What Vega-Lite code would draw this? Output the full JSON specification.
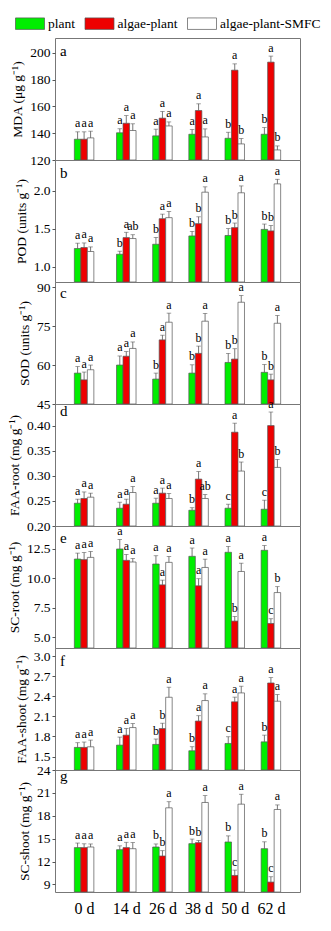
{
"$schema": "https://vega.github.io/schema/vega-lite/v6.json",
"padding": {"left": 6, "top": 13, "right": 5, "bottom": 5},
"bounds": "flush",
"spacing": 0,
"datasets": {"d": [
{"p":"a","d":0,"t":"plant","v":135.5,"u":141,"l":"a"},{"p":"a","d":0,"t":"algae-plant","v":135.5,"u":141,"l":"a"},{"p":"a","d":0,"t":"algae-plant-SMFC","v":136.5,"u":141.5,"l":"a"},
{"p":"a","d":14,"t":"plant","v":140.3,"u":143.3,"l":"a"},{"p":"a","d":14,"t":"algae-plant","v":147.4,"u":153.1,"l":"a"},{"p":"a","d":14,"t":"algae-plant-SMFC","v":142,"u":147,"l":"a"},
{"p":"a","d":26,"t":"plant","v":138,"u":143,"l":"a"},{"p":"a","d":26,"t":"algae-plant","v":151.2,"u":156.2,"l":"a"},{"p":"a","d":26,"t":"algae-plant-SMFC","v":145.4,"u":148.4,"l":"a"},
{"p":"a","d":38,"t":"plant","v":139.2,"u":142.7,"l":"a"},{"p":"a","d":38,"t":"algae-plant","v":156.9,"u":161.9,"l":"a"},{"p":"a","d":38,"t":"algae-plant-SMFC","v":137.2,"u":143.2,"l":"a"},
{"p":"a","d":50,"t":"plant","v":136.2,"u":140.7,"l":"b"},{"p":"a","d":50,"t":"algae-plant","v":187,"u":191.7,"l":"a"},{"p":"a","d":50,"t":"algae-plant-SMFC","v":132,"u":136,"l":"b"},
{"p":"a","d":62,"t":"plant","v":139.2,"u":144.2,"l":"b"},{"p":"a","d":62,"t":"algae-plant","v":193,"u":197.5,"l":"a"},{"p":"a","d":62,"t":"algae-plant-SMFC","v":127.5,"u":130.5,"l":"b"},
{"p":"b","d":0,"t":"plant","v":1.239,"u":1.309,"l":"a"},{"p":"b","d":0,"t":"algae-plant","v":1.252,"u":1.312,"l":"a"},{"p":"b","d":0,"t":"algae-plant-SMFC","v":1.2,"u":1.26,"l":"a"},
{"p":"b","d":14,"t":"plant","v":1.164,"u":1.204,"l":"b"},{"p":"b","d":14,"t":"algae-plant","v":1.382,"u":1.452,"l":"a"},{"p":"b","d":14,"t":"algae-plant-SMFC","v":1.37,"u":1.42,"l":"ab"},
{"p":"b","d":26,"t":"plant","v":1.295,"u":1.385,"l":"b"},{"p":"b","d":26,"t":"algae-plant","v":1.63,"u":1.69,"l":"a"},{"p":"b","d":26,"t":"algae-plant-SMFC","v":1.644,"u":1.724,"l":"a"},
{"p":"b","d":38,"t":"plant","v":1.404,"u":1.464,"l":"b"},{"p":"b","d":38,"t":"algae-plant","v":1.565,"u":1.655,"l":"b"},{"p":"b","d":38,"t":"algae-plant-SMFC","v":1.978,"u":2.048,"l":"a"},
{"p":"b","d":50,"t":"plant","v":1.41,"u":1.5,"l":"b"},{"p":"b","d":50,"t":"algae-plant","v":1.513,"u":1.573,"l":"b"},{"p":"b","d":50,"t":"algae-plant-SMFC","v":1.97,"u":2.06,"l":"a"},
{"p":"b","d":62,"t":"plant","v":1.49,"u":1.56,"l":"b"},{"p":"b","d":62,"t":"algae-plant","v":1.47,"u":1.54,"l":"b"},{"p":"b","d":62,"t":"algae-plant-SMFC","v":2.087,"u":2.147,"l":"a"},
{"p":"c","d":0,"t":"plant","v":56.9,"u":59.4,"l":"a"},{"p":"c","d":0,"t":"algae-plant","v":54.3,"u":57.3,"l":"a"},{"p":"c","d":0,"t":"algae-plant-SMFC","v":58.2,"u":60,"l":"a"},
{"p":"c","d":14,"t":"plant","v":60,"u":63.5,"l":"a"},{"p":"c","d":14,"t":"algae-plant","v":63.4,"u":65.2,"l":"a"},{"p":"c","d":14,"t":"algae-plant-SMFC","v":66.4,"u":68.9,"l":"a"},
{"p":"c","d":26,"t":"plant","v":54.6,"u":56.9,"l":"b"},{"p":"c","d":26,"t":"algae-plant","v":69.7,"u":71.5,"l":"a"},{"p":"c","d":26,"t":"algae-plant-SMFC","v":76.5,"u":80,"l":"a"},
{"p":"c","d":38,"t":"plant","v":56.9,"u":60.1,"l":"b"},{"p":"c","d":38,"t":"algae-plant","v":64.5,"u":67.3,"l":"b"},{"p":"c","d":38,"t":"algae-plant-SMFC","v":76.9,"u":79.9,"l":"a"},
{"p":"c","d":50,"t":"plant","v":61,"u":64.5,"l":"b"},{"p":"c","d":50,"t":"algae-plant","v":62.3,"u":66.3,"l":"b"},{"p":"c","d":50,"t":"algae-plant-SMFC","v":84.2,"u":86.8,"l":"a"},
{"p":"c","d":62,"t":"plant","v":57.2,"u":60.2,"l":"b"},{"p":"c","d":62,"t":"algae-plant","v":54.3,"u":56.5,"l":"b"},{"p":"c","d":62,"t":"algae-plant-SMFC","v":76.1,"u":79.1,"l":"a"},
{"p":"d","d":0,"t":"plant","v":0.2454,"u":0.2534,"l":"a"},{"p":"d","d":0,"t":"algae-plant","v":0.2548,"u":0.2678,"l":"a"},{"p":"d","d":0,"t":"algae-plant-SMFC","v":0.2574,"u":0.2654,"l":"a"},
{"p":"d","d":14,"t":"plant","v":0.2354,"u":0.2474,"l":"a"},{"p":"d","d":14,"t":"algae-plant","v":0.2434,"u":0.2534,"l":"a"},{"p":"d","d":14,"t":"algae-plant-SMFC","v":0.2667,"u":0.2787,"l":"a"},
{"p":"d","d":26,"t":"plant","v":0.2454,"u":0.2554,"l":"a"},{"p":"d","d":26,"t":"algae-plant","v":0.2654,"u":0.2754,"l":"a"},{"p":"d","d":26,"t":"algae-plant-SMFC","v":0.2548,"u":0.2648,"l":"a"},
{"p":"d","d":38,"t":"plant","v":0.2314,"u":0.2364,"l":"b"},{"p":"d","d":38,"t":"algae-plant","v":0.2934,"u":0.3084,"l":"a"},{"p":"d","d":38,"t":"algae-plant-SMFC","v":0.2548,"u":0.2628,"l":"ab"},
{"p":"d","d":50,"t":"plant","v":0.2354,"u":0.2434,"l":"c"},{"p":"d","d":50,"t":"algae-plant","v":0.3868,"u":0.4048,"l":"a"},{"p":"d","d":50,"t":"algae-plant-SMFC","v":0.3094,"u":0.3274,"l":"b"},
{"p":"d","d":62,"t":"plant","v":0.2334,"u":0.2514,"l":"c"},{"p":"d","d":62,"t":"algae-plant","v":0.4,"u":0.427,"l":"a"},{"p":"d","d":62,"t":"algae-plant-SMFC","v":0.3167,"u":0.3327,"l":"b"},
{"p":"e","d":0,"t":"plant","v":11.61,"u":12.11,"l":"a"},{"p":"e","d":0,"t":"algae-plant","v":11.56,"u":12.16,"l":"a"},{"p":"e","d":0,"t":"algae-plant-SMFC","v":11.75,"u":12.25,"l":"a"},
{"p":"e","d":14,"t":"plant","v":12.46,"u":13.26,"l":"a"},{"p":"e","d":14,"t":"algae-plant","v":11.5,"u":12.0,"l":"a"},{"p":"e","d":14,"t":"algae-plant-SMFC","v":11.36,"u":11.66,"l":"a"},
{"p":"e","d":26,"t":"plant","v":11.19,"u":11.89,"l":"a"},{"p":"e","d":26,"t":"algae-plant","v":9.43,"u":9.83,"l":"a"},{"p":"e","d":26,"t":"algae-plant-SMFC","v":11.33,"u":11.83,"l":"a"},
{"p":"e","d":38,"t":"plant","v":11.84,"u":12.54,"l":"a"},{"p":"e","d":38,"t":"algae-plant","v":9.35,"u":9.95,"l":"a"},{"p":"e","d":38,"t":"algae-plant-SMFC","v":10.9,"u":11.6,"l":"a"},
{"p":"e","d":50,"t":"plant","v":12.18,"u":12.68,"l":"a"},{"p":"e","d":50,"t":"algae-plant","v":6.37,"u":6.77,"l":"b"},{"p":"e","d":50,"t":"algae-plant-SMFC","v":10.56,"u":11.26,"l":"a"},
{"p":"e","d":62,"t":"plant","v":12.35,"u":12.75,"l":"a"},{"p":"e","d":62,"t":"algae-plant","v":6.17,"u":6.57,"l":"c"},{"p":"e","d":62,"t":"algae-plant-SMFC","v":8.78,"u":9.28,"l":"b"},
{"p":"f","d":0,"t":"plant","v":1.637,"u":1.707,"l":"a"},{"p":"f","d":0,"t":"algae-plant","v":1.637,"u":1.717,"l":"a"},{"p":"f","d":0,"t":"algae-plant-SMFC","v":1.646,"u":1.746,"l":"a"},
{"p":"f","d":14,"t":"plant","v":1.671,"u":1.791,"l":"a"},{"p":"f","d":14,"t":"algae-plant","v":1.82,"u":1.92,"l":"a"},{"p":"f","d":14,"t":"algae-plant-SMFC","v":1.933,"u":1.993,"l":"a"},
{"p":"f","d":26,"t":"plant","v":1.682,"u":1.762,"l":"b"},{"p":"f","d":26,"t":"algae-plant","v":1.918,"u":1.998,"l":"b"},{"p":"f","d":26,"t":"algae-plant-SMFC","v":2.385,"u":2.535,"l":"a"},
{"p":"f","d":38,"t":"plant","v":1.587,"u":1.647,"l":"b"},{"p":"f","d":38,"t":"algae-plant","v":2.03,"u":2.11,"l":"a"},{"p":"f","d":38,"t":"algae-plant-SMFC","v":2.336,"u":2.436,"l":"a"},
{"p":"f","d":50,"t":"plant","v":1.696,"u":1.796,"l":"c"},{"p":"f","d":50,"t":"algae-plant","v":2.317,"u":2.387,"l":"a"},{"p":"f","d":50,"t":"algae-plant-SMFC","v":2.45,"u":2.55,"l":"a"},
{"p":"f","d":62,"t":"plant","v":1.72,"u":1.82,"l":"b"},{"p":"f","d":62,"t":"algae-plant","v":2.598,"u":2.678,"l":"a"},{"p":"f","d":62,"t":"algae-plant-SMFC","v":2.326,"u":2.426,"l":"a"},
{"p":"g","d":0,"t":"plant","v":13.82,"u":14.42,"l":"a"},{"p":"g","d":0,"t":"algae-plant","v":13.82,"u":14.32,"l":"a"},{"p":"g","d":0,"t":"algae-plant-SMFC","v":13.9,"u":14.3,"l":"a"},
{"p":"g","d":14,"t":"plant","v":13.55,"u":14.05,"l":"a"},{"p":"g","d":14,"t":"algae-plant","v":13.82,"u":14.52,"l":"a"},{"p":"g","d":14,"t":"algae-plant-SMFC","v":13.68,"u":14.48,"l":"a"},
{"p":"g","d":26,"t":"plant","v":13.9,"u":14.3,"l":"b"},{"p":"g","d":26,"t":"algae-plant","v":12.72,"u":13.42,"l":"b"},{"p":"g","d":26,"t":"algae-plant-SMFC","v":19.04,"u":19.84,"l":"a"},
{"p":"g","d":38,"t":"plant","v":14.34,"u":14.94,"l":"b"},{"p":"g","d":38,"t":"algae-plant","v":14.47,"u":14.77,"l":"b"},{"p":"g","d":38,"t":"algae-plant-SMFC","v":19.74,"u":20.64,"l":"a"},
{"p":"g","d":50,"t":"plant","v":14.56,"u":15.36,"l":"b"},{"p":"g","d":50,"t":"algae-plant","v":10.17,"u":10.87,"l":"c"},{"p":"g","d":50,"t":"algae-plant-SMFC","v":19.52,"u":20.82,"l":"a"},
{"p":"g","d":62,"t":"plant","v":13.68,"u":14.58,"l":"b"},{"p":"g","d":62,"t":"algae-plant","v":9.3,"u":10.0,"l":"c"},{"p":"g","d":62,"t":"algae-plant-SMFC","v":18.82,"u":19.42,"l":"a"}
]},
"data": {"name": "d"},
"vconcat": [
{"width":245,"height":122,"title":{"text":"a"},"transform":[{"filter":"datum.p==='a'"}],
 "encoding":{"x":{"field":"d","type":"quantitative","scale":{"domain":[-8,70]},"axis":null},
  "y":{"field":"v","type":"quantitative","stack":null,"scale":{"domain":[120,211],"zero":false,"nice":false},"title":"MDA (μg g⁻¹)","axis":{"values":[120,140,160,180,200],"format":"d"}}},
 "layer":[
  {"mark":{"type":"bar","width":6.5,"clip":true,"stroke":"#555","strokeWidth":0.7,"xOffset":{"expr":"datum.t === 'plant' ? -6.5 : datum.t === 'algae-plant' ? 0 : 6.5"}},"encoding":{"fill":{"field":"t","type":"nominal","scale":{"domain":["plant","algae-plant","algae-plant-SMFC"],"range":["#00ee00","#ee0000","#ffffff"]},"legend":{"title":null,"orient":"none","legendX":-35.5,"legendY":-25,"labelFont":"Liberation Serif","labelFontSize":13.5}}}},
  {"mark":{"type":"rule","color":"#555","strokeWidth":0.8,"xOffset":{"expr":"datum.t === 'plant' ? -6.5 : datum.t === 'algae-plant' ? 0 : 6.5"}},"encoding":{"y2":{"field":"u"}}},
  {"mark":{"type":"tick","orient":"horizontal","size":4.5,"thickness":0.8,"color":"#555","xOffset":{"expr":"datum.t === 'plant' ? -6.5 : datum.t === 'algae-plant' ? 0 : 6.5"}},"encoding":{"y":{"field":"u","type":"quantitative","scale":{"domain":[120,211],"zero":false,"nice":false},"title":"MDA (μg g⁻¹)"}}},
  {"mark":{"type":"text","baseline":"bottom","dy":-1.5,"fontSize":12,"font":"Liberation Serif","color":"#000","xOffset":{"expr":"datum.t === 'plant' ? -6.5 : datum.t === 'algae-plant' ? 0 : 6.5"}},"encoding":{"y":{"field":"u","type":"quantitative","scale":{"domain":[120,211],"zero":false,"nice":false},"title":"MDA (μg g⁻¹)"},"text":{"field":"l"}}}
 ]},
{"width":245,"height":122,"title":{"text":"b"},"transform":[{"filter":"datum.p==='b'"}],
 "encoding":{"x":{"field":"d","type":"quantitative","scale":{"domain":[-8,70]},"axis":null},
  "y":{"field":"v","type":"quantitative","stack":null,"scale":{"domain":[0.8,2.4],"zero":false,"nice":false},"title":"POD (units g⁻¹)","axis":{"values":[1.0,1.5,2.0],"format":".1f"}}},
 "layer":[
  {"mark":{"type":"bar","width":6.5,"clip":true,"stroke":"#555","strokeWidth":0.7,"xOffset":{"expr":"datum.t === 'plant' ? -6.5 : datum.t === 'algae-plant' ? 0 : 6.5"}},"encoding":{"fill":{"field":"t","type":"nominal","scale":{"domain":["plant","algae-plant","algae-plant-SMFC"],"range":["#00ee00","#ee0000","#ffffff"]},"legend":{"title":null,"orient":"none","legendX":-35.5,"legendY":-25,"labelFont":"Liberation Serif","labelFontSize":13.5}}}},
  {"mark":{"type":"rule","color":"#555","strokeWidth":0.8,"xOffset":{"expr":"datum.t === 'plant' ? -6.5 : datum.t === 'algae-plant' ? 0 : 6.5"}},"encoding":{"y2":{"field":"u"}}},
  {"mark":{"type":"tick","orient":"horizontal","size":4.5,"thickness":0.8,"color":"#555","xOffset":{"expr":"datum.t === 'plant' ? -6.5 : datum.t === 'algae-plant' ? 0 : 6.5"}},"encoding":{"y":{"field":"u","type":"quantitative","scale":{"domain":[0.8,2.4],"zero":false,"nice":false},"title":"POD (units g⁻¹)"}}},
  {"mark":{"type":"text","baseline":"bottom","dy":-1.5,"fontSize":12,"font":"Liberation Serif","color":"#000","xOffset":{"expr":"datum.t === 'plant' ? -6.5 : datum.t === 'algae-plant' ? 0 : 6.5"}},"encoding":{"y":{"field":"u","type":"quantitative","scale":{"domain":[0.8,2.4],"zero":false,"nice":false},"title":"POD (units g⁻¹)"},"text":{"field":"l"}}}
 ]},
{"width":245,"height":122,"title":{"text":"c"},"transform":[{"filter":"datum.p==='c'"}],
 "encoding":{"x":{"field":"d","type":"quantitative","scale":{"domain":[-8,70]},"axis":null},
  "y":{"field":"v","type":"quantitative","stack":null,"scale":{"domain":[45,92],"zero":false,"nice":false},"title":"SOD (units g⁻¹)","axis":{"values":[45,60,75,90],"format":"d"}}},
 "layer":[
  {"mark":{"type":"bar","width":6.5,"clip":true,"stroke":"#555","strokeWidth":0.7,"xOffset":{"expr":"datum.t === 'plant' ? -6.5 : datum.t === 'algae-plant' ? 0 : 6.5"}},"encoding":{"fill":{"field":"t","type":"nominal","scale":{"domain":["plant","algae-plant","algae-plant-SMFC"],"range":["#00ee00","#ee0000","#ffffff"]},"legend":{"title":null,"orient":"none","legendX":-35.5,"legendY":-25,"labelFont":"Liberation Serif","labelFontSize":13.5}}}},
  {"mark":{"type":"rule","color":"#555","strokeWidth":0.8,"xOffset":{"expr":"datum.t === 'plant' ? -6.5 : datum.t === 'algae-plant' ? 0 : 6.5"}},"encoding":{"y2":{"field":"u"}}},
  {"mark":{"type":"tick","orient":"horizontal","size":4.5,"thickness":0.8,"color":"#555","xOffset":{"expr":"datum.t === 'plant' ? -6.5 : datum.t === 'algae-plant' ? 0 : 6.5"}},"encoding":{"y":{"field":"u","type":"quantitative","scale":{"domain":[45,92],"zero":false,"nice":false},"title":"SOD (units g⁻¹)"}}},
  {"mark":{"type":"text","baseline":"bottom","dy":-1.5,"fontSize":12,"font":"Liberation Serif","color":"#000","xOffset":{"expr":"datum.t === 'plant' ? -6.5 : datum.t === 'algae-plant' ? 0 : 6.5"}},"encoding":{"y":{"field":"u","type":"quantitative","scale":{"domain":[45,92],"zero":false,"nice":false},"title":"SOD (units g⁻¹)"},"text":{"field":"l"}}}
 ]},
{"width":245,"height":122,"title":{"text":"d"},"transform":[{"filter":"datum.p==='d'"}],
 "encoding":{"x":{"field":"d","type":"quantitative","scale":{"domain":[-8,70]},"axis":null},
  "y":{"field":"v","type":"quantitative","stack":null,"scale":{"domain":[0.2,0.443],"zero":false,"nice":false},"title":"FAA-root (mg g⁻¹)","axis":{"values":[0.2,0.25,0.3,0.35,0.4],"format":".2f"}}},
 "layer":[
  {"mark":{"type":"bar","width":6.5,"clip":true,"stroke":"#555","strokeWidth":0.7,"xOffset":{"expr":"datum.t === 'plant' ? -6.5 : datum.t === 'algae-plant' ? 0 : 6.5"}},"encoding":{"fill":{"field":"t","type":"nominal","scale":{"domain":["plant","algae-plant","algae-plant-SMFC"],"range":["#00ee00","#ee0000","#ffffff"]},"legend":{"title":null,"orient":"none","legendX":-35.5,"legendY":-25,"labelFont":"Liberation Serif","labelFontSize":13.5}}}},
  {"mark":{"type":"rule","color":"#555","strokeWidth":0.8,"xOffset":{"expr":"datum.t === 'plant' ? -6.5 : datum.t === 'algae-plant' ? 0 : 6.5"}},"encoding":{"y2":{"field":"u"}}},
  {"mark":{"type":"tick","orient":"horizontal","size":4.5,"thickness":0.8,"color":"#555","xOffset":{"expr":"datum.t === 'plant' ? -6.5 : datum.t === 'algae-plant' ? 0 : 6.5"}},"encoding":{"y":{"field":"u","type":"quantitative","scale":{"domain":[0.2,0.443],"zero":false,"nice":false},"title":"FAA-root (mg g⁻¹)"}}},
  {"mark":{"type":"text","baseline":"bottom","dy":-1.5,"fontSize":12,"font":"Liberation Serif","color":"#000","xOffset":{"expr":"datum.t === 'plant' ? -6.5 : datum.t === 'algae-plant' ? 0 : 6.5"}},"encoding":{"y":{"field":"u","type":"quantitative","scale":{"domain":[0.2,0.443],"zero":false,"nice":false},"title":"FAA-root (mg g⁻¹)"},"text":{"field":"l"}}}
 ]},
{"width":245,"height":122,"title":{"text":"e"},"transform":[{"filter":"datum.p==='e'"}],
 "encoding":{"x":{"field":"d","type":"quantitative","scale":{"domain":[-8,70]},"axis":null},
  "y":{"field":"v","type":"quantitative","stack":null,"scale":{"domain":[4.1,14.4],"zero":false,"nice":false},"title":"SC-root (mg g⁻¹)","axis":{"values":[5,7.5,10,12.5],"format":".1f"}}},
 "layer":[
  {"mark":{"type":"bar","width":6.5,"clip":true,"stroke":"#555","strokeWidth":0.7,"xOffset":{"expr":"datum.t === 'plant' ? -6.5 : datum.t === 'algae-plant' ? 0 : 6.5"}},"encoding":{"fill":{"field":"t","type":"nominal","scale":{"domain":["plant","algae-plant","algae-plant-SMFC"],"range":["#00ee00","#ee0000","#ffffff"]},"legend":{"title":null,"orient":"none","legendX":-35.5,"legendY":-25,"labelFont":"Liberation Serif","labelFontSize":13.5}}}},
  {"mark":{"type":"rule","color":"#555","strokeWidth":0.8,"xOffset":{"expr":"datum.t === 'plant' ? -6.5 : datum.t === 'algae-plant' ? 0 : 6.5"}},"encoding":{"y2":{"field":"u"}}},
  {"mark":{"type":"tick","orient":"horizontal","size":4.5,"thickness":0.8,"color":"#555","xOffset":{"expr":"datum.t === 'plant' ? -6.5 : datum.t === 'algae-plant' ? 0 : 6.5"}},"encoding":{"y":{"field":"u","type":"quantitative","scale":{"domain":[4.1,14.4],"zero":false,"nice":false},"title":"SC-root (mg g⁻¹)"}}},
  {"mark":{"type":"text","baseline":"bottom","dy":-1.5,"fontSize":12,"font":"Liberation Serif","color":"#000","xOffset":{"expr":"datum.t === 'plant' ? -6.5 : datum.t === 'algae-plant' ? 0 : 6.5"}},"encoding":{"y":{"field":"u","type":"quantitative","scale":{"domain":[4.1,14.4],"zero":false,"nice":false},"title":"SC-root (mg g⁻¹)"},"text":{"field":"l"}}}
 ]},
{"width":245,"height":122,"title":{"text":"f"},"transform":[{"filter":"datum.p==='f'"}],
 "encoding":{"x":{"field":"d","type":"quantitative","scale":{"domain":[-8,70]},"axis":null},
  "y":{"field":"v","type":"quantitative","stack":null,"scale":{"domain":[1.3,3.12],"zero":false,"nice":false},"title":"FAA-shoot (mg g⁻¹)","axis":{"values":[1.5,1.8,2.1,2.4,2.7,3.0],"format":".1f"}}},
 "layer":[
  {"mark":{"type":"bar","width":6.5,"clip":true,"stroke":"#555","strokeWidth":0.7,"xOffset":{"expr":"datum.t === 'plant' ? -6.5 : datum.t === 'algae-plant' ? 0 : 6.5"}},"encoding":{"fill":{"field":"t","type":"nominal","scale":{"domain":["plant","algae-plant","algae-plant-SMFC"],"range":["#00ee00","#ee0000","#ffffff"]},"legend":{"title":null,"orient":"none","legendX":-35.5,"legendY":-25,"labelFont":"Liberation Serif","labelFontSize":13.5}}}},
  {"mark":{"type":"rule","color":"#555","strokeWidth":0.8,"xOffset":{"expr":"datum.t === 'plant' ? -6.5 : datum.t === 'algae-plant' ? 0 : 6.5"}},"encoding":{"y2":{"field":"u"}}},
  {"mark":{"type":"tick","orient":"horizontal","size":4.5,"thickness":0.8,"color":"#555","xOffset":{"expr":"datum.t === 'plant' ? -6.5 : datum.t === 'algae-plant' ? 0 : 6.5"}},"encoding":{"y":{"field":"u","type":"quantitative","scale":{"domain":[1.3,3.12],"zero":false,"nice":false},"title":"FAA-shoot (mg g⁻¹)"}}},
  {"mark":{"type":"text","baseline":"bottom","dy":-1.5,"fontSize":12,"font":"Liberation Serif","color":"#000","xOffset":{"expr":"datum.t === 'plant' ? -6.5 : datum.t === 'algae-plant' ? 0 : 6.5"}},"encoding":{"y":{"field":"u","type":"quantitative","scale":{"domain":[1.3,3.12],"zero":false,"nice":false},"title":"FAA-shoot (mg g⁻¹)"},"text":{"field":"l"}}}
 ]},
{"width":245,"height":122,"title":{"text":"g"},"transform":[{"filter":"datum.p==='g'"}],
 "encoding":{"x":{"field":"d","type":"quantitative","scale":{"domain":[-8,70]},"axis":{"values":[0,14,26,38,50,62],"labelExpr":"datum.value + ' d'","ticks":false,"labelFontSize":16,"labelPadding":8,"title":null}},
  "y":{"field":"v","type":"quantitative","stack":null,"scale":{"domain":[8,24],"zero":false,"nice":false},"title":"SC-shoot (mg g⁻¹)","axis":{"values":[9,12,15,18,21,24],"format":"d"}}},
 "layer":[
  {"mark":{"type":"bar","width":6.5,"clip":true,"stroke":"#555","strokeWidth":0.7,"xOffset":{"expr":"datum.t === 'plant' ? -6.5 : datum.t === 'algae-plant' ? 0 : 6.5"}},"encoding":{"fill":{"field":"t","type":"nominal","scale":{"domain":["plant","algae-plant","algae-plant-SMFC"],"range":["#00ee00","#ee0000","#ffffff"]},"legend":{"title":null,"orient":"none","legendX":-35.5,"legendY":-25,"labelFont":"Liberation Serif","labelFontSize":13.5}}}},
  {"mark":{"type":"rule","color":"#555","strokeWidth":0.8,"xOffset":{"expr":"datum.t === 'plant' ? -6.5 : datum.t === 'algae-plant' ? 0 : 6.5"}},"encoding":{"y2":{"field":"u"}}},
  {"mark":{"type":"tick","orient":"horizontal","size":4.5,"thickness":0.8,"color":"#555","xOffset":{"expr":"datum.t === 'plant' ? -6.5 : datum.t === 'algae-plant' ? 0 : 6.5"}},"encoding":{"y":{"field":"u","type":"quantitative","scale":{"domain":[8,24],"zero":false,"nice":false},"title":"SC-shoot (mg g⁻¹)"}}},
  {"mark":{"type":"text","baseline":"bottom","dy":-1.5,"fontSize":12,"font":"Liberation Serif","color":"#000","xOffset":{"expr":"datum.t === 'plant' ? -6.5 : datum.t === 'algae-plant' ? 0 : 6.5"}},"encoding":{"y":{"field":"u","type":"quantitative","scale":{"domain":[8,24],"zero":false,"nice":false},"title":"SC-shoot (mg g⁻¹)"},"text":{"field":"l"}}}
 ]}
],
"config": {
 "font": "Liberation Serif",
 "view": {"stroke": "#777", "strokeWidth": 1},
 "axis": {"labelFont": "Liberation Serif", "titleFont": "Liberation Serif", "labelFontSize": 13.5, "titleFontSize": 13.5, "titleFontWeight": "normal", "labelColor": "#000", "titleColor": "#000", "tickColor": "#555", "domain": false, "grid": false, "tickSize": 3, "labelPadding": 2, "titlePadding": 5, "labelOverlap": false, "labelFlush": false, "labelBound": false},
 "title": {"anchor": "start", "frame": "group", "offset": -21, "dx": 5, "fontSize": 15, "fontWeight": "normal", "font": "Liberation Serif", "color": "#000"},
 "legend": {"direction": "horizontal", "symbolType": "M-1.45,-0.575H1.45V0.575H-1.45Z", "symbolSize": 400, "symbolStrokeColor": "#555", "symbolStrokeWidth": 0.7, "labelFont": "Liberation Serif", "labelFontSize": 13.5, "labelColor": "#000", "labelOffset": 7.5, "columnPadding": 7.5}
}
}
